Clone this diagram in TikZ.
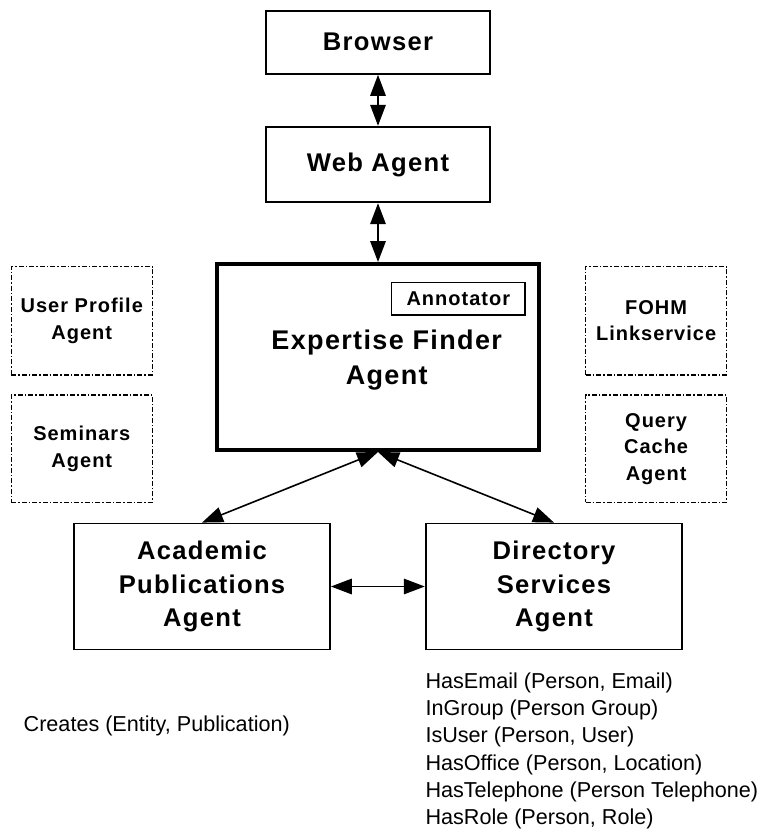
\documentclass[tikz,border=0pt]{standalone}
\usepackage{fontspec}
\setmainfont{Liberation Sans}
\newfontfamily\boxfont[LetterSpace=5]{Liberation Sans}
\usetikzlibrary{arrows.meta}
\tikzset{
  solidbox/.style={draw, line width=1.8pt, inner sep=0pt, align=center,
    font=\boxfont\bfseries\fontsize{25.6pt}{33.5pt}\selectfont},
  efbox/.style={draw, line width=4pt, inner sep=0pt},
  eftext/.style={inner sep=0pt, align=center,
    font=\boxfont\bfseries\fontsize{27pt}{35pt}\selectfont},
  annbox/.style={draw, line width=1.5pt, inner sep=0pt, align=center,
    font=\boxfont\bfseries\fontsize{20pt}{24pt}\selectfont},
  dotbox/.style={draw, line width=1.4pt, dash pattern=on 5pt off 2pt on 1.5pt off 2pt,
    inner sep=0pt, align=center, minimum width=141pt,
    font=\boxfont\bfseries\fontsize{20pt}{26.5pt}\selectfont},
  reltext/.style={inner sep=0pt, anchor=base west,
    font=\fontsize{21.6pt}{27.3pt}\selectfont},
  conn/.style={line width=1.6pt,
    {Triangle[length=21pt,width=15.5pt]}-{Triangle[length=21pt,width=15.5pt]}}
}
\begin{document}
\begin{tikzpicture}[x=1pt,y=-1pt]
\useasboundingbox (0,0) rectangle (762,829);
% main boxes
\node[solidbox, minimum width=224.3pt, minimum height=63.3pt] (browser) at (378,42.3) {Browser};
\node[solidbox, minimum width=224.3pt, minimum height=75.6pt] (web) at (378,164.5) {Web Agent};
\node[efbox, minimum width=321.3pt, minimum height=186pt] (ef) at (378,357) {};
\node[eftext] (eftxt) at (386.7,360.5) {Expertise Finder\\Agent};
\node[annbox, minimum width=133.3pt, minimum height=32.3pt] (ann) at (458.3,298.8) {Annotator};
% dotted side boxes
\node[dotbox, minimum height=108.3pt] (profile) at (81.8,320.8) {User Profile\\Agent};
\node[dotbox, minimum height=107.3pt] (seminars) at (81.8,448.7) {Seminars\\Agent};
\node[dotbox, minimum height=108.3pt] (fohm) at (656.1,320.8) {FOHM\\Linkservice};
\node[dotbox, minimum height=107.3pt] (query) at (656.1,448.7) {Query\\Cache\\Agent};
% lower boxes
\node[solidbox, minimum width=256pt, minimum height=126pt] (acad) at (202,586.5) {Academic\\Publications\\Agent};
\node[solidbox, minimum width=256.6pt, minimum height=126pt] (dir) at (554,586.5) {Directory\\Services\\Agent};
% connectors
\draw[conn] (browser) -- (web);
\draw[conn] (web) -- (ef);
\draw[conn] (ef.south) -- (acad.north);
\draw[conn] (ef.south) -- (dir.north);
\draw[conn] (acad) -- (dir);
% relation texts
\node[reltext] (creates) at (23.5,731.7) {Creates (Entity, Publication)};
\node[reltext] (r1) at (425.3,688.3) {HasEmail (Person, Email)};
\node[reltext] (r2) at (425.3,715.6) {InGroup (Person Group)};
\node[reltext] (r3) at (425.3,742.9) {IsUser (Person, User)};
\node[reltext] (r4) at (425.3,770.2) {HasOffice (Person, Location)};
\node[reltext] (r5) at (425.3,797.5) {HasTelephone (Person Telephone)};
\node[reltext] (r6) at (425.3,824.8) {HasRole (Person, Role)};
\end{tikzpicture}
\end{document}
